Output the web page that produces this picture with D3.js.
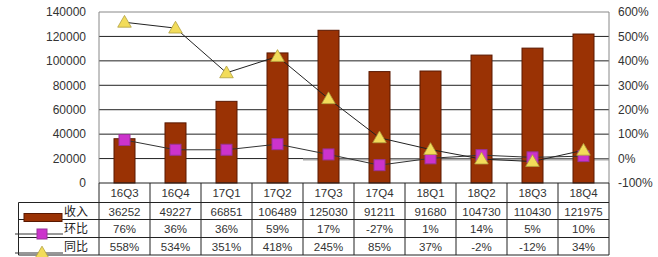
<!DOCTYPE html>
<html><head><meta charset="utf-8">
<script src="https://cdn.jsdelivr.net/npm/d3@7"></script>
<style>body{margin:0;background:#fff}svg{display:block}</style>
</head><body><svg id="c" width="658" height="257"></svg>
<script>
const categories = ["16Q3","16Q4","17Q1","17Q2","17Q3","17Q4","18Q1","18Q2","18Q3","18Q4"];
const revenue = [36252,49227,66851,106489,125030,91211,91680,104730,110430,121975];
const qoq = [76,36,36,59,17,-27,1,14,5,10];
const yoy = [558,534,351,418,245,85,37,-2,-12,34];
const leftTicks = [0,20000,40000,60000,80000,100000,120000,140000];
const rightTicks = [-100,0,100,200,300,400,500,600];
const seriesNames = ["收入","环比","同比"];

const svg = d3.select("#c");
const L = 99, R = 609, T = 12, B = 183;
const x = d3.scaleBand().domain(categories).range([L, R]);
const yL = d3.scaleLinear().domain([0,140000]).range([B, T]);
const yR = d3.scaleLinear().domain([-100,600]).range([B, T]);
const numFont = "Liberation Sans, Arial, sans-serif";
const cjkFont = "Noto Sans CJK SC, sans-serif";
const txt = "#333";

// gridlines
svg.append("g").selectAll("line").data(leftTicks.filter(d => d > 0 && d < 140000)).join("line")
  .attr("x1", L).attr("x2", R).attr("y1", d => yL(d)).attr("y2", d => yL(d))
  .attr("stroke", "#222").attr("stroke-width", 1);
// grey overlay on zero line (right part)
svg.append("line").attr("x1", x("17Q3")).attr("x2", R).attr("y1", yR(0)+1).attr("y2", yR(0)+1)
  .attr("stroke", "#aaa").attr("stroke-width", 2);
// frame
svg.append("path").attr("d", `M${L},${B}V${T}H${R}V${B}`).attr("fill","none").attr("stroke","#888").attr("stroke-width",1);

// left axis
const axL = d3.axisLeft(yL).tickValues(leftTicks).tickSize(0).tickPadding(13).tickFormat(d3.format("d"));
const gL = svg.append("g").attr("transform", `translate(${L},0)`).call(axL);
gL.select(".domain").remove();
gL.selectAll("text").attr("font-family", numFont).attr("font-size", 12).attr("fill", txt);

// right axis
const axR = d3.axisRight(yR).tickValues(rightTicks).tickSize(0).tickPadding(9).tickFormat(d => d + "%");
const gR = svg.append("g").attr("transform", `translate(${R},0)`).call(axR);
gR.select(".domain").remove();
gR.selectAll("text").attr("font-family", numFont).attr("font-size", 12).attr("fill", txt);

// bars
const bw = 21;
svg.append("g").selectAll("rect").data(revenue).join("rect")
  .attr("x", (d,i) => x(categories[i]) + x.bandwidth()/2 - bw/2)
  .attr("y", d => yL(d)).attr("width", bw).attr("height", d => B - yL(d))
  .attr("fill", "#9a3204").attr("stroke", "#5a1800").attr("stroke-width", 1);

const cx = (d,i) => x(categories[i]) + x.bandwidth()/2;
// lines
const lineQ = d3.line().x((d,i) => cx(d,i)).y(d => yR(d));
svg.append("path").attr("d", lineQ(qoq)).attr("fill","none").attr("stroke","#333").attr("stroke-width",1);
svg.append("path").attr("d", lineQ(yoy)).attr("fill","none").attr("stroke","#222").attr("stroke-width",1);

svg.append("g").selectAll("rect").data(qoq).join("rect")
  .attr("x", (d,i) => cx(d,i) - 5.5).attr("y", d => yR(d) - 5.5).attr("width", 11).attr("height", 11)
  .attr("fill", "#cc33cc").attr("stroke", "#993399").attr("stroke-width", 1);

const tri = d3.symbol().type(d3.symbolTriangle).size(80);
svg.append("g").selectAll("path").data(yoy).join("path")
  .attr("d", tri).attr("transform", (d,i) => `translate(${cx(d,i)},${yR(d)+1})`)
  .attr("fill", "#f2dc5a").attr("stroke", "#b0a040").attr("stroke-width", 0.8);

// table
const rowsY = [183, 202.5, 219.5, 237.5, 255];
const tg = svg.append("g").attr("stroke", "#222").attr("stroke-width", 1);
tg.append("line").attr("x1", L).attr("x2", R).attr("y1", B).attr("y2", B);
rowsY.slice(1).forEach(y => tg.append("line").attr("x1", 18.5).attr("x2", R).attr("y1", y).attr("y2", y));
tg.append("line").attr("x1", 18.5).attr("x2", 18.5).attr("y1", rowsY[1]).attr("y2", 255);
categories.forEach(c => tg.append("line").attr("x1", x(c)).attr("x2", x(c)).attr("y1", B).attr("y2", 255));
tg.append("line").attr("x1", R).attr("x2", R).attr("y1", B).attr("y2", 255);

// category labels
svg.append("g").selectAll("text").data(categories).join("text")
  .attr("x", (d,i) => cx(d,i)).attr("y", 197).attr("text-anchor","middle")
  .attr("font-family", numFont).attr("font-size", 11.5).attr("fill", txt).text(d => d);

const rowsData = [revenue.map(String), qoq.map(d => d + "%"), yoy.map(d => d + "%")];
rowsData.forEach((row, r) => {
  svg.append("g").selectAll("text").data(row).join("text")
    .attr("x", (d,i) => cx(d,i)).attr("y", rowsY[r+1] + 13).attr("text-anchor","middle")
    .attr("font-family", numFont).attr("font-size", 11.5).attr("fill", txt).text(d => d);
});

// legend
seriesNames.forEach((n, r) => {
  svg.append("text").attr("x", 64).attr("y", rowsY[r+1] + 13.5)
    .attr("font-family", cjkFont).attr("font-size", 12).attr("fill", "#222").text(n);
});
svg.append("rect").attr("x", 24).attr("y", 213.5).attr("width", 38).attr("height", 8)
  .attr("fill", "#9a3204").attr("stroke", "#5a1800");
svg.append("line").attr("x1", 15).attr("x2", 63).attr("y1", 234).attr("y2", 234).attr("stroke","#333");
svg.append("rect").attr("x", 37).attr("y", 229).attr("width", 10).attr("height", 10)
  .attr("fill", "#cc33cc").attr("stroke", "#993399");
svg.append("line").attr("x1", 15).attr("x2", 63).attr("y1", 253).attr("y2", 253).attr("stroke","#333");
svg.append("path").attr("d", tri).attr("transform", "translate(42,254)")
  .attr("fill", "#f2dc5a").attr("stroke", "#b0a040").attr("stroke-width", 0.8);
</script></body></html>
